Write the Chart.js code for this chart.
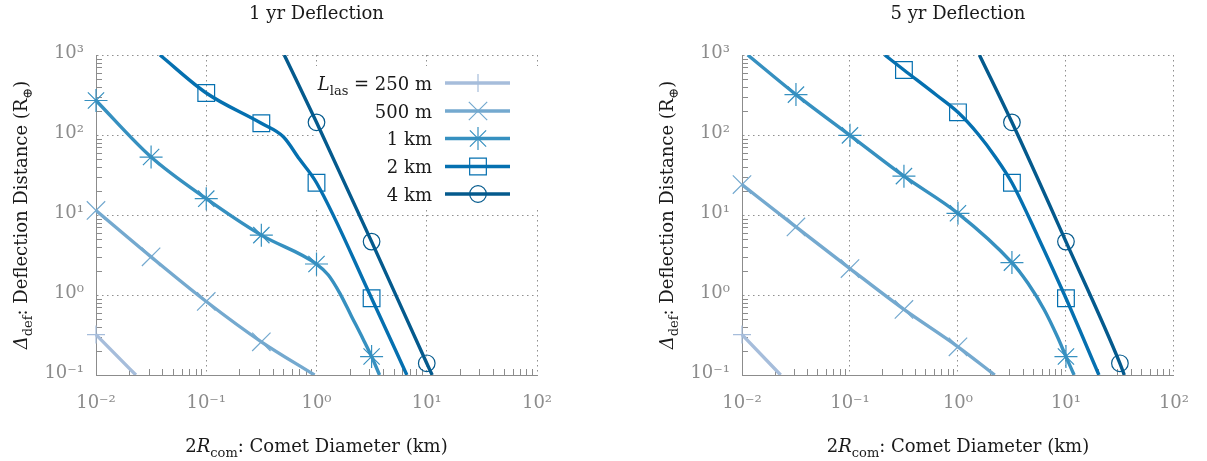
<!DOCTYPE html>
<html>
<head>
<meta charset="utf-8">
<script src="https://cdn.jsdelivr.net/npm/chart.js@4.4.1/dist/chart.umd.min.js"></script>
<style>
  html, body { margin: 0; padding: 0; background: #fff; }
  #wrap { position: relative; width: 1207px; height: 461px; }
  #chart1 { position: absolute; left: 0; top: 0; }
  #chart2 { position: absolute; left: 603px; top: 0; }
</style>
</head>
<body>
<div id="wrap">
  <canvas id="chart1" width="603" height="461"></canvas>
  <canvas id="chart2" width="604" height="461"></canvas>
</div>
<script>
const sizes = ['250 m', '500 m', '1 km', '2 km', '4 km'];
const colors = ['#a6bddb', '#74a9cf', '#3690c0', '#0570b0', '#045a8d'];
const markers = ['cross', 'crossRot', 'star', 'rect', 'circle'];
const markerRadius = [9, 13, 11.5, 11.8, 8.3];

const xTicks = [0.01, 0.1, 1, 10, 100];
const xTickLabels = ['10⁻²', '10⁻¹', '10⁰', '10¹', '10²'];
const yTicks = [0.1, 1, 10, 100, 1000];
const yTickLabels = ['10⁻¹', '10⁰', '10¹', '10²', '10³'];
// markers only sit on the half-decade samples
const markerX = [0.01, 0.0316, 0.1, 0.316, 1, 3.16, 10, 31.6];

// 1 yr deflection
const x250a = [0.01, 0.023];
const y250a = [0.32, 0.1];
const x500a = [0.01, 0.0316, 0.1, 0.316, 0.96];
const y500a = [11.4, 3.0, 0.83, 0.26, 0.1];
const x1kma = [0.01, 0.0316, 0.1, 0.316, 1, 1.28, 1.63, 2.08, 2.65, 3.16, 3.73];
const y1kma = [270, 53, 16, 5.6, 2.44, 1.78, 1.05, 0.54, 0.28, 0.17, 0.1];
const x2kma = [0.038, 0.1, 0.316, 0.5, 0.7, 1, 3.16, 6.6];
const y2kma = [1000, 335, 140, 95, 50, 25.3, 0.91, 0.1];
const x4kma = [0.51, 1, 3.16, 10, 11.2];
const y4kma = [1000, 144, 4.65, 0.14, 0.1];

// 5 yr deflection
const x250b = [0.01, 0.0228];
const y250b = [0.32, 0.1];
const x500b = [0.01, 0.0316, 0.1, 0.316, 1, 2.19];
const y500b = [24, 7.1, 2.14, 0.66, 0.225, 0.1];
const x1kmb = [0.0113, 0.0316, 0.1, 0.316, 1, 3.16, 4.45, 6.31, 8.34, 10, 11.9];
const y1kmb = [1000, 320, 99, 30.6, 10.5, 2.54, 1.4, 0.65, 0.30, 0.17, 0.1];
const x2kmb = [0.21, 0.316, 0.631, 1, 1.56, 2.21, 3.16, 5.48, 10, 20.2];
const y2kmb = [1000, 650, 316, 192, 100, 53.6, 25.3, 5.4, 0.91, 0.1];
const x4kmb = [1.58, 3.16, 10, 31.6, 34.7];
const y4kmb = [1000, 144, 4.65, 0.14, 0.1];

const FONT = '"DejaVu Serif"';
const TICK_GRAY = '#8c8c8c';

const xTitle = [{t: '2'}, {t: 'R', italic: true}, {t: 'com', sub: true}, {t: ': Comet Diameter (km)'}];
const yTitle = [{t: 'Δ', italic: true}, {t: 'def', sub: true}, {t: ': Deflection Distance (R'}, {t: '⊕', sub: true}, {t: ')'}];


function near(a, b) {
    return Math.abs(Math.log10(a / b)) < 0.01;
}

function isMarker(x) {
    return markerX.some(m => near(x, m));
}

function logTicks(majors) {
    let list = [];
    for (let i = 0; i < majors.length - 1; i++) {
        for (let k = 1; k < 10; k++) list.push(majors[i] * k);
    }
    list.push(majors[majors.length - 1]);
    return list.map(v => ({value: v}));
}

function labelFor(value, majors, labels) {
    const i = majors.findIndex(m => near(m, value));
    return i >= 0 ? labels[i] : '';
}

function segFont(seg, size) {
    const s = seg.sub ? Math.round(size * 0.7) : size;
    return (seg.italic ? 'italic ' : '') + s + 'px ' + FONT;
}

function drawRich(ctx, segs, x, y, size, align) {
    let w = 0;
    segs.forEach(seg => { ctx.font = segFont(seg, size); w += ctx.measureText(seg.t).width; });
    let cx = align === 'center' ? x - w / 2 : (align === 'right' ? x - w : x);
    ctx.textAlign = 'left';
    segs.forEach(seg => {
        ctx.font = segFont(seg, size);
        ctx.fillText(seg.t, cx, y + (seg.sub ? size * 0.28 : 0));
        cx += ctx.measureText(seg.t).width;
    });
}

const minorTicks = {
    id: 'minorTicks',
    beforeDatasetsDraw(chart) {
        const {ctx, chartArea: a, scales: {x, y}} = chart;
        ctx.save();
        ctx.strokeStyle = TICK_GRAY;
        ctx.lineWidth = 1;
        ctx.beginPath();
        x.ticks.forEach(t => {
            if (xTicks.some(m => near(m, t.value))) return;
            const px = Math.round(x.getPixelForValue(t.value)) + 0.5;
            ctx.moveTo(px, a.bottom);
            ctx.lineTo(px, a.bottom - 6);
        });
        y.ticks.forEach(t => {
            if (yTicks.some(m => near(m, t.value))) return;
            const py = Math.round(y.getPixelForValue(t.value)) + 0.5;
            ctx.moveTo(a.left, py);
            ctx.lineTo(a.left + 6, py);
        });
        ctx.stroke();
        ctx.restore();
    }
};

// legend like the original: white box behind the curves, entries on top
const legendBox = {
    id: 'legendBox',
    beforeDatasetsDraw(chart) {
        const ctx = chart.ctx;
        ctx.save();
        ctx.fillStyle = '#fff';
        ctx.fillRect(316, 66, 224, 141);
        ctx.restore();
    },
    afterDraw(chart) {
        const ctx = chart.ctx;
        const rows = [83, 111, 138.5, 166.5, 194];
        ctx.save();
        sizes.forEach((name, i) => {
            const y = rows[i];
            ctx.fillStyle = '#1a1a1a';
            ctx.textBaseline = 'alphabetic';
            const segs = i === 0 ? [{t: 'L', italic: true}, {t: 'las', sub: true}, {t: ' = ' + name}] : [{t: name}];
            drawRich(ctx, segs, 432, y + 6.5, 18, 'right');
            ctx.strokeStyle = colors[i];
            ctx.lineWidth = 3.4;
            ctx.beginPath();
            ctx.moveTo(445, y);
            ctx.lineTo(510, y);
            ctx.stroke();
            ctx.fillStyle = 'rgba(0,0,0,0)';
            ctx.lineWidth = 1.2;
            Chart.helpers.drawPoint(ctx, {pointStyle: markers[i], radius: markerRadius[i], rotation: 0, borderWidth: 1.2}, 478, y);
        });
        ctx.restore();
    }
};

function titlesPlugin(title) {
    return {
        id: 'titles',
        afterDraw(chart) {
            const ctx = chart.ctx;
            const a = chart.chartArea;
            const cx = (a.left + a.right) / 2;
            ctx.save();
            ctx.fillStyle = '#1a1a1a';
            ctx.textBaseline = 'alphabetic';
            drawRich(ctx, [{t: title}], cx, 19, 18, 'center');
            drawRich(ctx, xTitle, cx, a.bottom + 77, 18, 'center');
            ctx.translate(a.left - 69, (a.top + a.bottom) / 2);
            ctx.rotate(-Math.PI / 2);
            drawRich(ctx, yTitle, 0, 0, 18, 'center');
            ctx.restore();
        }
    };
}

function gridColor(c) {
    return c.tick && (xTicks.concat(yTicks)).some(m => near(m, c.tick.value)) ? '#8f8f8f' : 'rgba(0,0,0,0)';
}

function makeChart(canvasId, title, xs, ys, axisWidth, padRight, withLegend) {
    const datasets = sizes.map((name, i) => ({
        label: name,
        data: xs[i].map((x, j) => ({x: x, y: ys[i][j]})),
        borderColor: colors[i],
        borderWidth: 3.4,
        pointStyle: markers[i],
        pointBorderColor: colors[i],
        pointBackgroundColor: 'rgba(0,0,0,0)',
        pointBorderWidth: 1.2,
        pointRadius: (c) => (c.raw && isMarker(c.raw.x)) ? markerRadius[i] : 0,
        pointHoverRadius: (c) => (c.raw && isMarker(c.raw.x)) ? markerRadius[i] : 0,
        cubicInterpolationMode: 'monotone',
        clip: {left: 15, right: 15, top: 0, bottom: 0}
    }));

    const tickFont = {family: 'DejaVu Serif', size: 18};
    const plugins = [minorTicks, titlesPlugin(title)];
    if (withLegend) plugins.push(legendBox);

    return new Chart(document.getElementById(canvasId), {
        type: 'line',
        data: {datasets: datasets},
        plugins: plugins,
        options: {
            responsive: false,
            animation: false,
            layout: {padding: {left: 0, right: padRight, top: 55, bottom: 0}},
            plugins: {legend: {display: false}, tooltip: {enabled: false}},
            scales: {
                x: {
                    type: 'logarithmic',
                    min: 0.01,
                    max: 100,
                    afterBuildTicks: (s) => { s.ticks = logTicks(xTicks); },
                    afterFit: (s) => { s.height = 86; },
                    grid: {color: gridColor, lineWidth: 1, drawTicks: false},
                    border: {display: true, color: TICK_GRAY, width: 1, dash: [1.5, 3.5]},
                    ticks: {
                        autoSkip: false, maxRotation: 0, minRotation: 0, padding: 18,
                        color: TICK_GRAY, font: tickFont,
                        callback: (v) => labelFor(v, xTicks, xTickLabels)
                    }
                },
                y: {
                    type: 'logarithmic',
                    min: 0.1,
                    max: 1000,
                    afterBuildTicks: (s) => { s.ticks = logTicks(yTicks); },
                    afterFit: (s) => { s.width = axisWidth; },
                    grid: {color: gridColor, lineWidth: 1, drawTicks: false},
                    border: {display: true, color: TICK_GRAY, width: 1, dash: [1.5, 3.5]},
                    ticks: {
                        autoSkip: false, padding: 12, labelOffset: -2,
                        color: TICK_GRAY, font: tickFont,
                        callback: (v) => labelFor(v, yTicks, yTickLabels)
                    }
                }
            }
        }
    });
}


makeChart('chart1', '1 yr Deflection',
    [x250a, x500a, x1kma, x2kma, x4kma],
    [y250a, y500a, y1kma, y2kma, y4kma], 96, 66, true);

makeChart('chart2', '5 yr Deflection',
    [x250b, x500b, x1kmb, x2kmb, x4kmb],
    [y250b, y500b, y1kmb, y2kmb, y4kmb], 139, 25, false);
</script>
</body>
</html>
